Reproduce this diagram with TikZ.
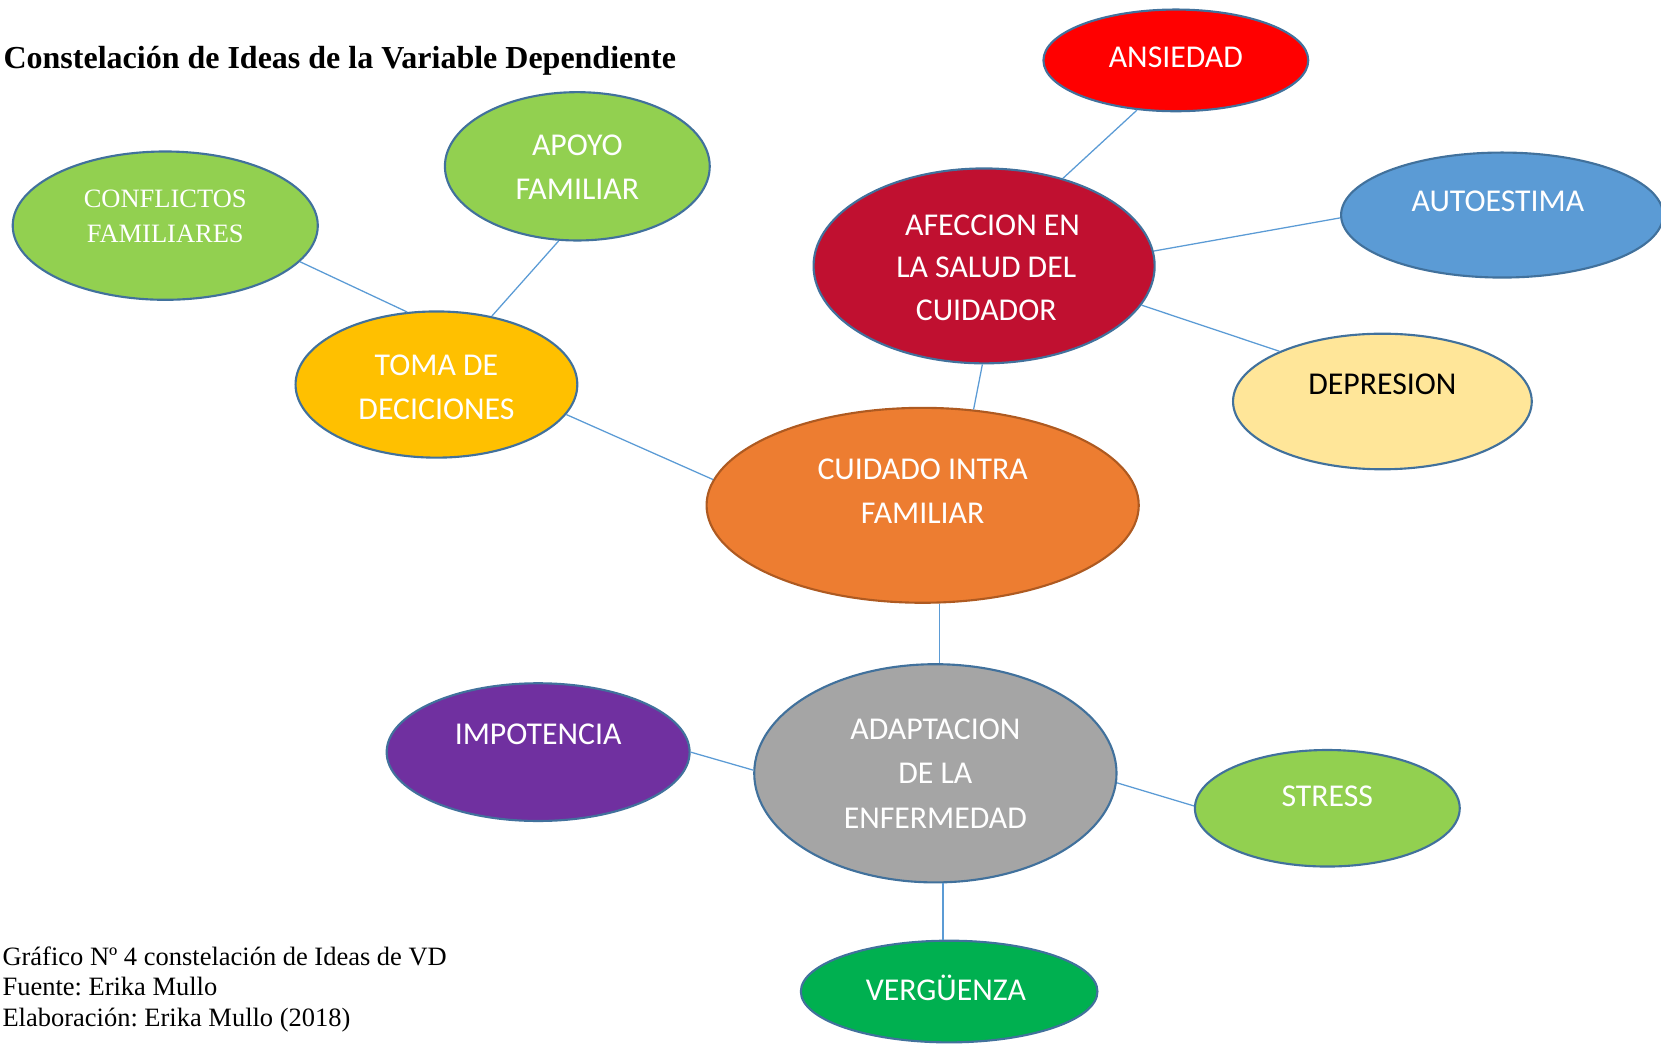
\documentclass[tikz,border=0pt]{standalone}
\usepackage{fontspec}
\setmainfont{Liberation Serif}
\newfontfamily\calibri{Carlito}
\usetikzlibrary{shapes.geometric}
\frenchspacing
\definecolor{bordeazul}{HTML}{41719C}
\definecolor{lineaazul}{HTML}{5B9BD5}
\definecolor{verdeclaro}{HTML}{92D050}
\definecolor{verdeosc}{HTML}{00B050}
\definecolor{amarillo}{HTML}{FFC000}
\definecolor{crema}{HTML}{FFE699}
\definecolor{rojo}{HTML}{FF0000}
\definecolor{granate}{HTML}{C01030}
\definecolor{azulmed}{HTML}{5B9BD5}
\definecolor{naranja}{HTML}{ED7D31}
\definecolor{naranjaosc}{HTML}{AE5A21}
\definecolor{morado}{HTML}{7030A0}
\definecolor{gris}{HTML}{A5A5A5}
\begin{document}
\begin{tikzpicture}[x=0.5pt, y=-0.5pt,
    burbuja/.style={ellipse, draw=bordeazul, line width=1pt, inner sep=0pt},
    rotulo/.style={text=white, font=\calibri\fontsize{15}{21}\selectfont, align=center},
    enlace/.style={draw=lineaazul, line width=0.6pt}]
  \useasboundingbox (0,0) rectangle (1568,987);

  % titulo y pie
  \node[anchor=base west, inner sep=0pt, font=\bfseries\fontsize{15.1}{18}\selectfont] (titulo) at (3,65) {Constelación de Ideas de la Variable Dependiente};
  \node[anchor=north west, inner sep=0pt, align=left, font=\fontsize{12.5}{14.5}\selectfont] (pie) at (2,893)
    {Gráfico Nº 4 constelación de Ideas de VD\\Fuente: Erika Mullo\\Elaboración: Erika Mullo (2018)};

  % elipses
  \node[burbuja, fill=verdeclaro, minimum width=144pt, minimum height=70pt] (conflictos) at (156,213) {};
  \node[burbuja, fill=verdeclaro, minimum width=125pt, minimum height=70pt] (apoyo) at (545,157) {};
  \node[burbuja, fill=amarillo, minimum width=133pt, minimum height=69pt] (toma) at (412,363) {};
  \node[burbuja, fill=rojo, minimum width=125pt, minimum height=48pt] (ansiedad) at (1110,57) {};
  \node[burbuja, fill=granate, minimum width=161pt, minimum height=92pt] (afeccion) at (929,251) {};
  \node[burbuja, fill=azulmed, minimum width=152pt, minimum height=59pt] (autoestima) at (1418,203) {};
  \node[burbuja, fill=crema, minimum width=141pt, minimum height=64pt] (depresion) at (1305,379) {};
  \node[burbuja, fill=naranja, draw=naranjaosc, minimum width=204pt, minimum height=92pt] (cuidado) at (871,477) {};
  \node[burbuja, fill=morado, minimum width=143pt, minimum height=65pt] (impotencia) at (508,710) {};
  \node[burbuja, fill=gris, minimum width=171pt, minimum height=103pt] (adaptacion) at (883,730) {};
  \node[burbuja, fill=verdeclaro, minimum width=125pt, minimum height=55pt] (stress) at (1253,763) {};
  \node[burbuja, fill=verdeosc, minimum width=140pt, minimum height=48pt] (verguenza) at (896,936) {};

  % textos
  \node[rotulo, font=\rmfamily\fontsize{12.5}{16.5}\selectfont] (conflictos-t) at (156,204.5) {CONFLICTOS\\FAMILIARES};
  \node[rotulo] (apoyo-t) at (545,158) {APOYO\\FAMILIAR};
  \node[rotulo] (toma-t) at (412,365.5) {TOMA DE\\DECICIONES};
  \node[rotulo] (ansiedad-t) at (1110,54) {ANSIEDAD};
  \node[rotulo, font=\calibri\fontsize{15}{20}\selectfont] (afeccion-t) at (931,252.5) {\hspace*{6pt}AFECCION EN\\LA SALUD DEL\\CUIDADOR};
  \node[rotulo] (autoestima-t) at (1414,190) {AUTOESTIMA};
  \node[rotulo, text=black] (depresion-t) at (1305,363) {DEPRESION};
  \node[rotulo] (cuidado-t) at (871,463.5) {CUIDADO INTRA\\FAMILIAR};
  \node[rotulo] (impotencia-t) at (508,693) {IMPOTENCIA};
  \node[rotulo] (adaptacion-t) at (883,730) {ADAPTACION\\DE LA\\ENFERMEDAD};
  \node[rotulo] (stress-t) at (1253,752) {STRESS};
  \node[rotulo] (verguenza-t) at (893,933) {VERGÜENZA};

  % enlaces
  \foreach \a/\b in {conflictos.-15/toma.112, apoyo.256/toma.51, toma.-13/cuidado.173,
                     ansiedad.232/afeccion.48, afeccion.5/autoestima.181, afeccion.-14/depresion.154,
                     afeccion.269/cuidado.62, impotencia.0/adaptacion.179, adaptacion.-3/stress.179}
    \draw[enlace] (\a) -- (\b);
  \draw[enlace] (adaptacion.88) -- (adaptacion.88 |- cuidado.south);
  \draw[enlace] (adaptacion.274) -- (adaptacion.274 |- verguenza.north);
\end{tikzpicture}
\end{document}
